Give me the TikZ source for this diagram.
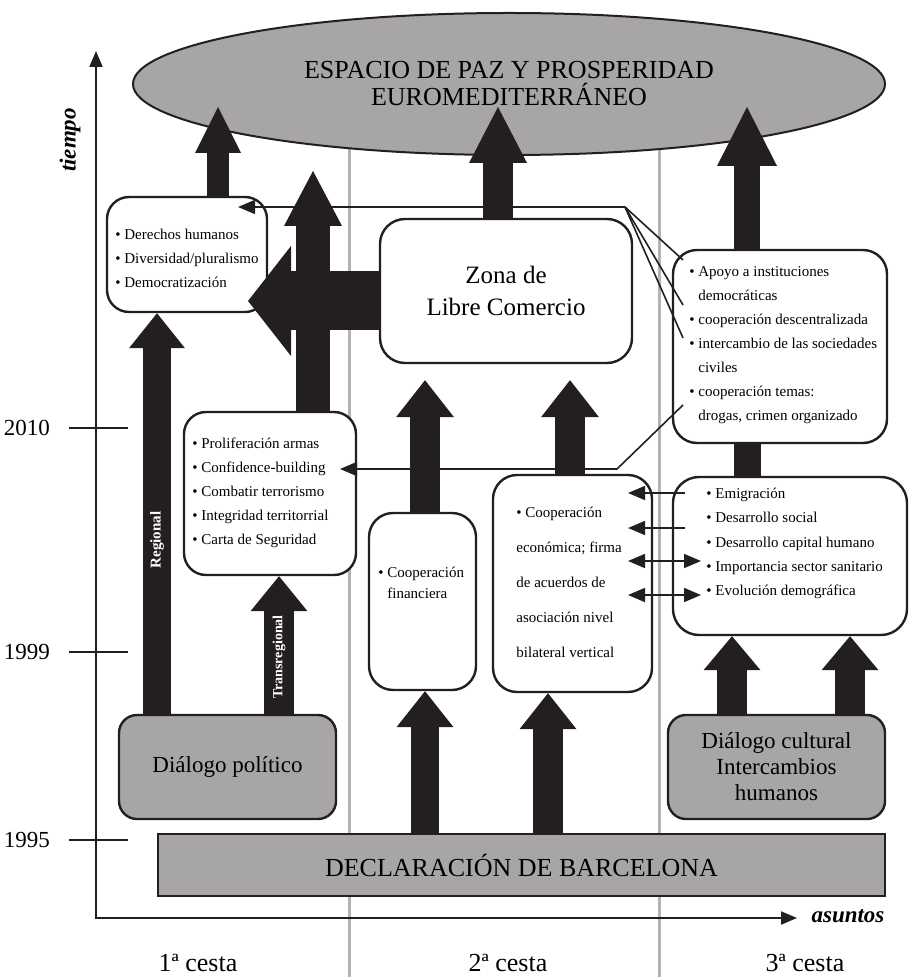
\documentclass[tikz,border=0pt]{standalone}
\usepackage{fontspec}
\setmainfont{Liberation Serif}
\usetikzlibrary{arrows.meta,shapes.geometric}

\definecolor{fillgray}{HTML}{A7A5A6}
\definecolor{inkblack}{HTML}{231F20}
\definecolor{sepgray}{HTML}{B3B3B3}

\newcommand{\itemfont}{\fontsize{7.5}{12}\selectfont}

\newcommand{\timeaxis}
{
    \coordinate (origin) at (96,918);
    \coordinate (tmax) at (96,51);
    \coordinate (amax) at (797,918);

    \draw [axisline,{Triangle[length=8pt,width=6.5pt]}-{Triangle[length=8pt,width=6.5pt]}] (tmax) -- (origin) -- (amax);

    \foreach \y/\yr in {428/2010, 652/1999, 840/1995}
    {
        \draw [axisline] (69,\y) -- (128,\y);
        \node (year\yr) [anchor=east,font=\fontsize{11.5}{13}\selectfont] at (57,\y) {\yr};
    }

    \node (tiempo) at (70,140) [rotate=90,font=\fontsize{11.5}{13}\selectfont\bfseries\itshape] {tiempo};
    \node (asuntos) at (848,916) [font=\fontsize{11.5}{13}\selectfont\bfseries\itshape] {asuntos};
}

\begin{document}
\begin{tikzpicture}[x=0.5pt,y=-0.5pt,
    axisline/.style={draw=inkblack,line width=1pt},
    separator/.style={draw=sepgray,line width=1.5pt},
    roundbox/.style={draw=inkblack,line width=1.2pt,fill=white,rounded corners=11pt,inner sep=0},
    graybox/.style={roundbox,fill=fillgray},
    itemtext/.style={anchor=west,align=left,inner sep=0,font=\itemfont},
    thinline/.style={draw=inkblack,line width=0.8pt},
    thinarrow/.style={thinline,-{Triangle[length=8.5pt,width=7pt]}},
    thinboth/.style={thinline,{Triangle[length=8.5pt,width=7pt]}-{Triangle[length=8.5pt,width=7pt]}},
    bigarrow/.style n args={3}{draw=inkblack,line width=#1,-{Triangle[width=#2,length=#3,line width=0pt]}},
    arrowlabel/.style={rotate=90,text=white,inner sep=0}]

\useasboundingbox (0,0) rectangle (909,977);

% basket separators

\foreach \x in {349,659}
    \draw [separator] (\x,100) -- (\x,977);

% goal

\node (espacio) at (509,84) [ellipse,draw=inkblack,line width=1pt,fill=fillgray,inner sep=0,
    minimum width=376pt,minimum height=71pt,align=center,font=\fontsize{13}{13.5}\selectfont]
    {ESPACIO DE PAZ Y PROSPERIDAD\\EUROMEDITERRÁNEO};

% boxes

\node (derechos) at (187,254.5) [roundbox,minimum width=80pt,minimum height=57.5pt] {};
\node (armas) at (270,493.5) [roundbox,minimum width=86pt,minimum height=81.5pt] {};
\node (zona) at (506,291) [roundbox,rounded corners=12.5pt,minimum width=126pt,minimum height=72pt,
    align=center,font=\fontsize{12.5}{16}\selectfont] {Zona de\\Libre Comercio};
\node (fin) at (422.5,601.5) [roundbox,rounded corners=12pt,minimum width=53.5pt,minimum height=88.5pt] {};
\node (eco) at (572.5,583.5) [roundbox,rounded corners=12pt,minimum width=79.5pt,minimum height=108.5pt] {};
\node (apoyo) at (780,346.5) [roundbox,rounded corners=12pt,minimum width=107pt,minimum height=96.5pt] {};
\node (emig) at (790,556) [roundbox,rounded corners=13pt,minimum width=117pt,minimum height=79pt] {};
\node (dialpol) at (227.5,767) [graybox,rounded corners=9pt,minimum width=108.5pt,minimum height=52pt,
    font=\fontsize{11.5}{13}\selectfont] {Diálogo político};
\node (dialcult) at (776.5,767) [graybox,rounded corners=9pt,minimum width=108.5pt,minimum height=52pt,
    align=center,font=\fontsize{11.5}{13}\selectfont] {Diálogo cultural\\Intercambios\\humanos};
\node (decl) at (521.5,865) [graybox,rounded corners=0pt,minimum width=363.5pt,minimum height=31pt,
    font=\fontsize{13}{15}\selectfont] {DECLARACIÓN DE BARCELONA};

% box contents

\node (derechostxt) at (115,258) [itemtext]
    {\textbullet\ Derechos humanos\\\textbullet\ Diversidad/pluralismo\\\textbullet\ Democratización};
\node (armastxt) at (192,493) [itemtext]
    {\textbullet\ Proliferación armas\\\textbullet\ Confidence-building\\\textbullet\ Combatir terrorismo\\
     \textbullet\ Integridad territorrial\\\textbullet\ Carta de Seguridad};
\node (fintxt) at (378,582.5) [itemtext,font=\fontsize{7.5}{10.5}\selectfont]
    {\textbullet\ Cooperación\\\hphantom{\textbullet\ }financiera};
\node (ecotxt) at (516,582) [itemtext,font=\fontsize{7.5}{17.5}\selectfont]
    {\textbullet\ Cooperación\\económica; firma\\de acuerdos de\\asociación nivel\\bilateral vertical};
\node (apoyotxt) at (689,345) [itemtext]
    {\textbullet\ Apoyo a instituciones\\\hphantom{\textbullet\ }democráticas\\
     \textbullet\ cooperación descentralizada\\\textbullet\ intercambio de las sociedades\\
     \hphantom{\textbullet\ }civiles\\\textbullet\ cooperación temas:\\\hphantom{\textbullet\ }drogas, crimen organizado};
\node (emigtxt) at (706,543.5) [itemtext,font=\fontsize{7.5}{12.2}\selectfont]
    {\textbullet\ Emigración\\\textbullet\ Desarrollo social\\\textbullet\ Desarrollo capital humano\\
     \textbullet\ Importancia sector sanitario\\\textbullet\ Evolución demográfica};

% thin links

\coordinate (fan) at (625,207);
\coordinate (dertip) at (238,207);
\draw [thinarrow] (fan) -- (dertip);
\foreach \y [count=\i] in {260,305,338}
{
    \coordinate (fanend\i) at (683,\y);
    \draw [thinline] (fan) -- (fanend\i);
}

\coordinate (temas) at (683,405);
\coordinate (bend) at (617,469);
\coordinate (armastip) at (340,469);
\draw [thinarrow] (temas) -- (bend) -- (armastip);

\foreach \y [count=\i] in {493,528}
{
    \coordinate (ecoin\i) at (628,\y);
    \coordinate (emigin\i) at (685,\y);
    \draw [thinarrow] (emigin\i) -- (ecoin\i);
}
\foreach \y [count=\i from 3] in {561,595}
{
    \coordinate (ecoin\i) at (628,\y);
    \coordinate (emigin\i) at (701,\y);
    \draw [thinboth] (ecoin\i) -- (emigin\i);
}

% block arrows

\coordinate (peak) at (0,107);
\coordinate (secpeak) at (0,171);
\coordinate (politip) at (248,301);
\coordinate (colA) at (218,0);
\coordinate (colB) at (313,0);
\coordinate (colC) at (498,0);
\coordinate (colD) at (747,0);
\coordinate (regx) at (157,0);
\coordinate (transx) at (279,0);
\coordinate (finx) at (425,0);
\coordinate (ecox) at (570,0);
\coordinate (declx) at (548,0);
\coordinate (cultx1) at (732,0);
\coordinate (cultx2) at (850,0);

\draw [bigarrow={11pt}{23pt}{23pt}] (derechos.north -| colA) -- (colA |- peak);
\draw [bigarrow={17pt}{29pt}{27.5pt}] (armas.north -| colB) -- (colB |- secpeak);
\draw [bigarrow={15pt}{29pt}{28pt}] (zona.north -| colC) -- (colC |- peak);
\draw [bigarrow={13pt}{30pt}{29.5pt}] (apoyo.north -| colD) -- (colD |- peak);
\draw [draw=inkblack,line width=13.5pt] (emig.north -| colD) -- (apoyo.south -| colD);

\draw [bigarrow={29.5pt}{55pt}{21.5pt}] (zona.west |- politip) -- (politip);

\draw [bigarrow={14pt}{28pt}{17.5pt}] (dialpol.north -| regx) -- (derechos.south -| regx);
\draw [bigarrow={15pt}{28.5pt}{17.5pt}] (dialpol.north -| transx) -- (armas.south -| transx);

\draw [bigarrow={15pt}{29pt}{18.5pt},shorten >=8pt] (fin.north -| finx) -- (zona.south -| finx);
\draw [bigarrow={15pt}{29pt}{18.5pt},shorten >=8pt] (eco.north -| ecox) -- (zona.south -| ecox);
\draw [bigarrow={14pt}{28.5pt}{18pt}] (decl.north -| finx) -- (fin.south -| finx);
\draw [bigarrow={15pt}{28.5pt}{18pt}] (decl.north -| declx) -- (eco.south -| declx);

\foreach \c in {cultx1,cultx2}
    \draw [bigarrow={15pt}{28.5pt}{17pt}] (dialcult.north -| \c) -- (emig.south -| \c);

\node (regional) at (157,540) [arrowlabel,font=\fontsize{7.5}{9}\selectfont\bfseries] {Regional};
\node (transregional) at (279,657) [arrowlabel,font=\fontsize{7}{9}\selectfont\bfseries] {Transregional};

% axes

\timeaxis

\foreach \x/\nr in {198/1, 508/2, 805/3}
    \node (cesta\nr) at (\x,963) [font=\fontsize{13}{15}\selectfont] {\nr{}ª cesta};

\end{tikzpicture}
\end{document}
